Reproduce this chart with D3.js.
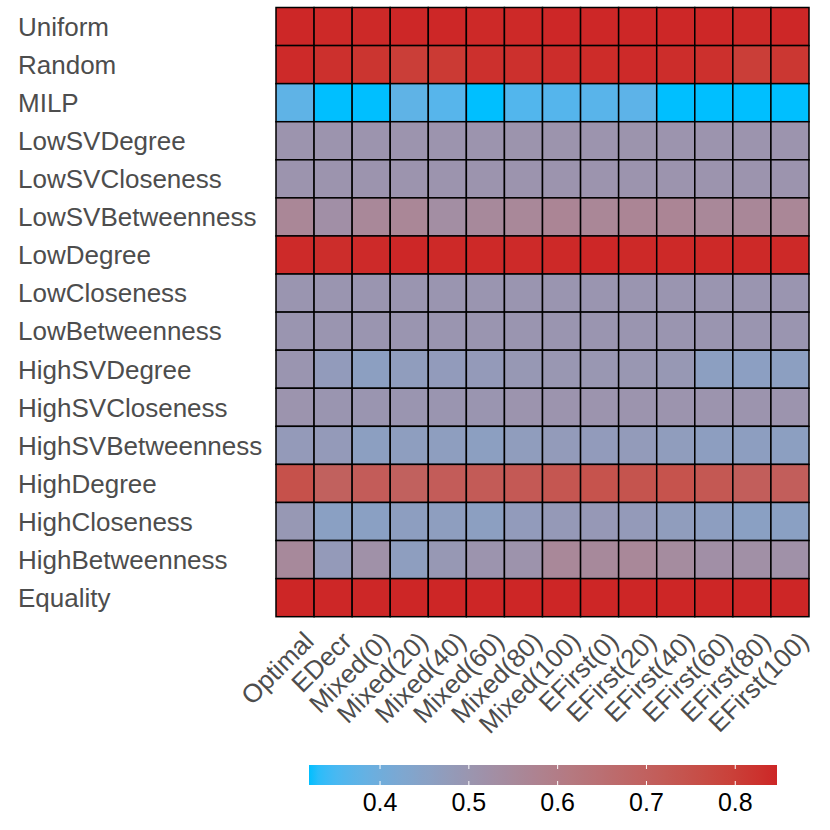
<!DOCTYPE html>
<html>
<head>
<meta charset="utf-8">
<script src="https://cdn.jsdelivr.net/npm/d3@7"></script>
<style>
  html, body { margin: 0; padding: 0; background: #fff; }
  svg { display: block; }
</style>
</head>
<body>
<svg id="chart" width="830" height="830"></svg>
<script>
const methods = ["Uniform","Random","MILP","LowSVDegree","LowSVCloseness","LowSVBetweenness",
  "LowDegree","LowCloseness","LowBetweenness","HighSVDegree","HighSVCloseness",
  "HighSVBetweenness","HighDegree","HighCloseness","HighBetweenness","Equality"];
const conditions = ["Optimal","EDecr","Mixed(0)","Mixed(20)","Mixed(40)","Mixed(60)","Mixed(80)",
  "Mixed(100)","EFirst(0)","EFirst(20)","EFirst(40)","EFirst(60)","EFirst(80)","EFirst(100)"];

const uniformVals = [0.845,0.843,0.843,0.845,0.845,0.843,0.843,0.845,0.845,0.845,0.845,0.845,0.843,0.845];
const randomVals = [0.84,0.83,0.82,0.80,0.81,0.83,0.83,0.835,0.838,0.84,0.835,0.83,0.80,0.815];
const milpVals = [0.375,0.32,0.32,0.375,0.365,0.32,0.36,0.363,0.368,0.372,0.32,0.32,0.32,0.32];
const lowSVDegreeVals = [0.505,0.505,0.505,0.505,0.505,0.505,0.507,0.507,0.505,0.507,0.505,0.505,0.505,0.505];
const lowSVClosenessVals = [0.505,0.505,0.505,0.505,0.505,0.505,0.505,0.505,0.505,0.505,0.505,0.505,0.505,0.505];
const lowSVBetweennessVals = [0.56,0.525,0.555,0.56,0.53,0.55,0.555,0.565,0.56,0.565,0.565,0.555,0.557,0.56];
const lowDegreeVals = [0.84,0.835,0.84,0.845,0.843,0.843,0.84,0.843,0.845,0.843,0.843,0.843,0.843,0.843];
const lowClosenessVals = [0.50,0.50,0.50,0.50,0.50,0.50,0.50,0.50,0.50,0.50,0.50,0.50,0.50,0.50];
const lowBetweennessVals = [0.50,0.50,0.50,0.50,0.50,0.50,0.50,0.50,0.50,0.50,0.50,0.50,0.50,0.50];
const highSVDegreeVals = [0.50,0.475,0.46,0.47,0.475,0.48,0.49,0.495,0.495,0.495,0.49,0.46,0.458,0.46];
const highSVClosenessVals = [0.505,0.50,0.50,0.50,0.50,0.50,0.505,0.505,0.505,0.505,0.505,0.505,0.505,0.505];
const highSVBetweennessVals = [0.48,0.48,0.46,0.465,0.465,0.46,0.47,0.478,0.475,0.478,0.47,0.462,0.462,0.46];
const highDegreeVals = [0.75,0.70,0.715,0.70,0.715,0.72,0.725,0.735,0.745,0.742,0.745,0.73,0.71,0.71];
const highClosenessVals = [0.49,0.455,0.455,0.462,0.465,0.46,0.475,0.485,0.487,0.48,0.47,0.462,0.455,0.455];
const highBetweennessVals = [0.55,0.48,0.52,0.465,0.49,0.505,0.51,0.555,0.55,0.555,0.54,0.525,0.523,0.52];
const equalityVals = [0.847,0.845,0.845,0.847,0.847,0.847,0.847,0.847,0.847,0.847,0.847,0.847,0.847,0.847];

const legendTicks = [0.4, 0.5, 0.6, 0.7, 0.8];
const valueDomain = [0.32, 0.847];

const rowValues = [uniformVals, randomVals, milpVals, lowSVDegreeVals, lowSVClosenessVals,
  lowSVBetweennessVals, lowDegreeVals, lowClosenessVals, lowBetweennessVals, highSVDegreeVals,
  highSVClosenessVals, highSVBetweennessVals, highDegreeVals, highClosenessVals,
  highBetweennessVals, equalityVals];

const cells = [];
methods.forEach((m, i) => conditions.forEach((c, j) => cells.push({m, c, v: rowValues[i][j]})));

const svg = d3.select("#chart");
const FONT = "'Liberation Sans', Arial, Helvetica, sans-serif";

const gLeft = 276, gTop = 7.5, gRight = 809, gBottom = 616.7;
const x = d3.scaleBand().domain(conditions).range([gLeft, gRight]).padding(0);
const y = d3.scaleBand().domain(methods).range([gTop, gBottom]).padding(0);
const color = d3.scaleLinear().domain(valueDomain).range(["#00BFFF", "#CD2626"])
  .interpolate(d3.interpolateLab).clamp(true);

svg.append("g").selectAll("rect").data(cells).join("rect")
  .attr("x", d => x(d.c))
  .attr("y", d => y(d.m))
  .attr("width", x.bandwidth())
  .attr("height", y.bandwidth())
  .attr("fill", d => color(d.v))
  .attr("stroke", "#000")
  .attr("stroke-width", 1.5);

// Y labels
svg.append("g").selectAll("text").data(methods).join("text")
  .attr("x", 18)
  .attr("y", d => y(d) + y.bandwidth() / 2)
  .attr("dy", "0.36em")
  .attr("font-family", FONT)
  .attr("font-size", 26)
  .attr("fill", "#4d4d4d")
  .text(d => d);

// X labels
svg.append("g").selectAll("text").data(conditions).join("text")
  .attr("transform", d => `translate(${x(d) + x.bandwidth() / 2 + 7},${gBottom + 13}) rotate(-45)`)
  .attr("text-anchor", "end")
  .attr("dy", "0.72em")
  .attr("font-family", FONT)
  .attr("font-size", 26)
  .attr("fill", "#4d4d4d")
  .text(d => d);

// Legend
const lx0 = 309, lx1 = 777, ly = 765, lh = 20;
const defs = svg.append("defs");
const grad = defs.append("linearGradient").attr("id", "lg").attr("x1", "0%").attr("x2", "100%");
d3.range(0, 1.0001, 0.02).forEach(t => {
  grad.append("stop").attr("offset", (t * 100) + "%")
    .attr("stop-color", color(valueDomain[0] + t * (valueDomain[1] - valueDomain[0])));
});
const lscale = d3.scaleLinear().domain(valueDomain).range([lx0, lx1]);
svg.append("rect").attr("x", lx0).attr("y", ly).attr("width", lx1 - lx0).attr("height", lh)
  .attr("fill", "url(#lg)");
const tg = svg.append("g");
legendTicks.forEach(t => {
  const xx = lscale(t);
  tg.append("line").attr("x1", xx).attr("x2", xx).attr("y1", ly).attr("y2", ly + 4)
    .attr("stroke", "#fff").attr("stroke-width", 1);
  tg.append("line").attr("x1", xx).attr("x2", xx).attr("y1", ly + lh - 4).attr("y2", ly + lh)
    .attr("stroke", "#fff").attr("stroke-width", 1);
});
svg.append("g").selectAll("text").data(legendTicks).join("text")
  .attr("x", d => lscale(d))
  .attr("y", 811)
  .attr("text-anchor", "middle")
  .attr("font-family", FONT)
  .attr("font-size", 25)
  .attr("fill", "#000")
  .text(d => d3.format(".1f")(d));
</script>
</body>
</html>
